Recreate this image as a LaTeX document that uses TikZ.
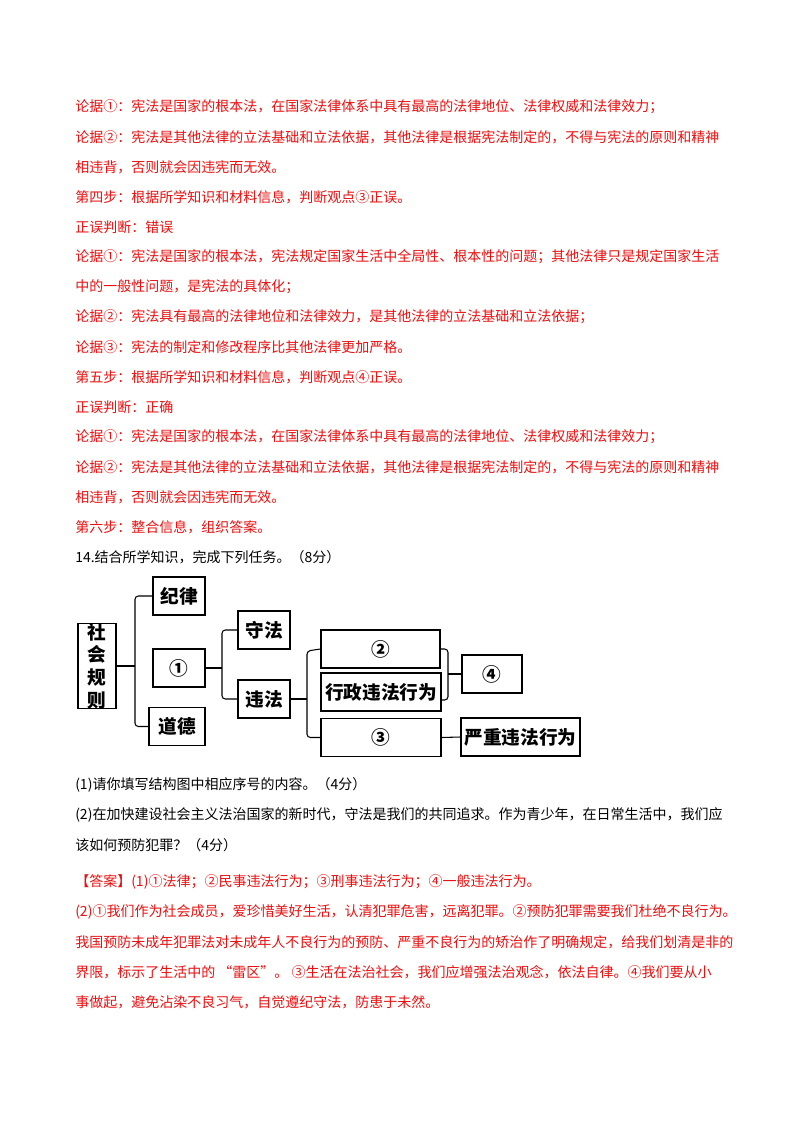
\documentclass[tikz,border=0pt]{standalone}
\usepackage{fontspec}
\setmainfont{Noto Sans CJK SC}
\definecolor{ansred}{RGB}{232,16,16}
\tikzset{
  txt/.style={anchor=west, inner sep=0pt, font=\fontsize{10.5pt}{12pt}\selectfont},
  red/.style={txt, text=ansred},
  blk/.style={txt, text=black},
  box/.style={draw, line width=0.8pt, inner sep=0pt, minimum height=28.5pt, font=\fontsize{14pt}{16pt}\selectfont\bfseries},
  link/.style={line width=0.8pt, rounded corners=2.5pt}
}
\begin{document}
\begin{tikzpicture}[x=0.75pt,y=-0.75pt]
\useasboundingbox (0,0) rectangle (800,1132);
% text above the diagram
\node[red] (l1) at (75,107){论据①：宪法是国家的根本法，在国家法律体系中具有最高的法律地位、法律权威和法律效力；};
\node[red] (l2) at (75,137){论据②：宪法是其他法律的立法基础和立法依据，其他法律是根据宪法制定的，不得与宪法的原则和精神};
\node[red] (l3) at (75,167){相违背，否则就会因违宪而无效。};
\node[red] (l4) at (75,197){第四步：根据所学知识和材料信息，判断观点③正误。};
\node[red] (l5) at (75,227){正误判断：错误};
\node[red] (l6) at (75,257){论据①：宪法是国家的根本法，宪法规定国家生活中全局性、根本性的问题；其他法律只是规定国家生活};
\node[red] (l7) at (75,287){中的一般性问题，是宪法的具体化；};
\node[red] (l8) at (75,317){论据②：宪法具有最高的法律地位和法律效力，是其他法律的立法基础和立法依据；};
\node[red] (l9) at (75,347){论据③：宪法的制定和修改程序比其他法律更加严格。};
\node[red] (l10) at (75,377){第五步：根据所学知识和材料信息，判断观点④正误。};
\node[red] (l11) at (75,407){正误判断：正确};
\node[red] (l12) at (75,437){论据①：宪法是国家的根本法，在国家法律体系中具有最高的法律地位、法律权威和法律效力；};
\node[red] (l13) at (75,467){论据②：宪法是其他法律的立法基础和立法依据，其他法律是根据宪法制定的，不得与宪法的原则和精神};
\node[red] (l14) at (75,497){相违背，否则就会因违宪而无效。};
\node[red] (l15) at (75,527){第六步：整合信息，组织答案。};
\node[blk] (q14) at (75,557){14.结合所学知识，完成下列任务。（8分）};
% diagram
\node[box, minimum width=28.5pt, minimum height=63.75pt, align=center, font=\fontsize{14pt}{17pt}\selectfont\bfseries] (rule) at (97,666){社\\会\\规\\则};
\node[box, minimum width=39pt] (jilv) at (179,596){纪律};
\node[box, minimum width=39pt] (n1) at (179,668){①};
\node[box, minimum width=42pt] (daode) at (177,726.5){道德};
\node[box, minimum width=39pt] (shoufa) at (264,630){守法};
\node[box, minimum width=39pt] (weifa) at (264,699){违法};
\node[box, minimum width=89.25pt] (n2) at (380.5,649){②};
\node[box, minimum width=90pt] (xz) at (381,692){行政违法行为};
\node[box, minimum width=90pt] (n3) at (381,737.5){③};
\node[box, minimum width=45pt] (n4) at (492,674){④};
\node[box, minimum width=89.25pt] (yz) at (520.5,737){严重违法行为};
\draw[link] (jilv.west) -- (135,596) -- (135,726.5) -- (daode.west);
\draw[line width=0.8pt] (rule.east) -- (135,666);
\draw[link] (shoufa.west) -- (222,630) -- (222,699) -- (weifa.west);
\draw[line width=0.8pt] (n1.east) -- (222,668);
\draw[link] (n2.west) -- (307,651) -- (307,737.5) -- (n3.west);
\draw[line width=0.8pt] (weifa.east) -- (307,699);
\draw[link] (441,649) -- (448,649) -- (448,700) -- (441,700);
\draw[line width=0.8pt] (448,674) -- (n4.west);
\draw[line width=0.8pt] (n3.east) -- (yz.west);
% questions and answer
\node[blk] (q1) at (75,785){(1)请你填写结构图中相应序号的内容。（4分）};
\node[blk] (q2) at (75,815){(2)在加快建设社会主义法治国家的新时代，守法是我们的共同追求。作为青少年，在日常生活中，我们应};
\node[blk] (q3) at (75,845){该如何预防犯罪？（4分）};
\node[red] (a1) at (75,882){【答案】(1)①法律；②民事违法行为；③刑事违法行为；④一般违法行为。};
\node[red] (a2) at (75,912){(2)①我们作为社会成员，爱珍惜美好生活，认清犯罪危害，远离犯罪。②预防犯罪需要我们杜绝不良行为。};
\node[red] (a3) at (75,942){我国预防未成年犯罪法对未成年人不良行为的预防、严重不良行为的矫治作了明确规定，给我们划清是非的};
\node[red] (a4) at (75,972){界限，标示了生活中的 “雷区”。 ③生活在法治社会，我们应增强法治观念，依法自律。④我们要从小};
\node[red] (a5) at (75,1002){事做起，避免沾染不良习气，自觉遵纪守法，防患于未然。};
\end{tikzpicture}
\end{document}
